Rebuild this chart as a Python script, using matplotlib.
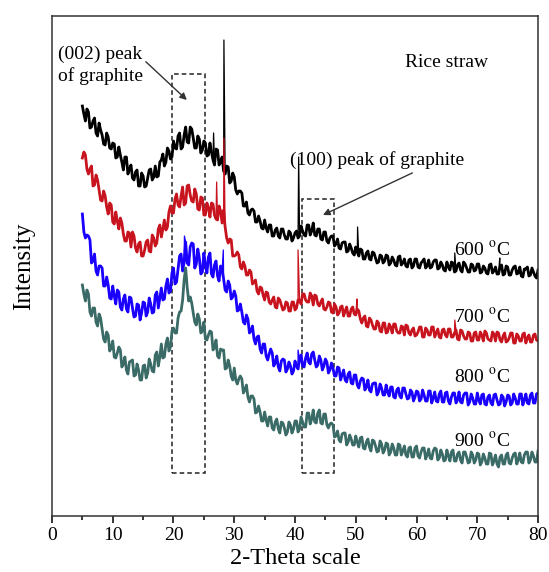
import numpy as np
import matplotlib
matplotlib.use("Agg")
import matplotlib.pyplot as plt
from matplotlib.patches import Rectangle

plt.rcParams['font.family'] = ['Liberation Serif', 'DejaVu Serif']
plt.rcParams['mathtext.fontset'] = 'stix'

# 2-theta grids (deg) of the read-off points
two_theta = np.arange(5.0, 80.01, 0.5)
two_theta_mid = np.arange(5.25, 79.8, 0.5)

# intensities (arbitrary units, curves stacked)
int_600 = [
    410, 395, 404, 389, 398, 380, 386, 372, 383, 368,
    373, 358, 369, 354, 359, 342, 351, 336, 346, 330,
    340, 330, 346, 336, 350, 340, 356, 350, 368, 357,
    375, 367, 383, 369, 389, 373, 387, 368, 380, 363,
    375, 360, 373, 356, 367, 351, 359, 342, 349, 335,
    339, 322, 325, 310, 314, 301, 307, 294, 300, 288,
    296, 284, 291, 280, 288, 278, 287, 277, 285, 275,
    283, 278, 290, 281, 291, 281, 293, 280, 287, 276,
    284, 273, 280, 270, 277, 267, 274, 264, 272, 263,
    269, 260, 266, 257, 265, 256, 263, 253, 261, 253,
    261, 251, 259, 251, 259, 251, 257, 249, 257, 250,
    257, 248, 255, 248, 256, 249, 256, 247, 254, 246,
    254, 246, 253, 245, 253, 244, 252, 244, 252, 245,
    252, 243, 250, 243, 251, 243, 249, 242, 251, 242,
    249, 241, 249, 242, 249, 239, 247, 240, 248, 240,
    246,
]
int_600_mid = [
    402, 407, 388, 395, 383, 393, 381, 371, 379, 367,
    372, 359, 361, 346, 359, 347, 338, 344, 330, 343,
    329, 338, 347, 339, 339, 354, 362, 354, 365, 359,
    368, 380, 367, 381, 374, 389, 378, 368, 377, 366,
    373, 361, 364, 351, 366, 354, 345, 350, 333, 343,
    326, 325, 323, 310, 303, 306, 305, 294, 295, 287,
    288, 291, 280, 286, 280, 287, 281, 277, 283, 278,
    285, 280, 285, 280, 291, 285, 281, 287, 277, 284,
    275, 278, 280, 272, 268, 273, 274, 265, 268, 261,
    264, 267, 257, 263, 257, 264, 258, 254, 260, 255,
    260, 253, 256, 250, 260, 253, 250, 256, 248, 257,
    249, 253, 257, 250, 248, 254, 256, 248, 251, 245,
    249, 254, 244, 251, 246, 254, 248, 244, 251, 246,
    252, 244, 248, 242, 252, 245, 242, 249, 241, 250,
    241, 246, 250, 243, 240, 247, 249, 241, 244, 238,
]
int_700 = [
    358, 361, 342, 350, 331, 336, 316, 325, 309, 313,
    294, 304, 287, 293, 275, 284, 269, 280, 264, 274,
    260, 274, 265, 281, 270, 287, 279, 296, 289, 310,
    303, 322, 309, 329, 313, 331, 315, 327, 307, 319,
    301, 313, 299, 312, 297, 310, 293, 289, 273, 276,
    260, 264, 249, 254, 241, 246, 232, 236, 222, 228,
    216, 223, 212, 219, 208, 216, 206, 214, 205, 214,
    206, 216, 212, 222, 214, 223, 211, 220, 210, 217,
    206, 214, 204, 212, 201, 209, 200, 209, 200, 209,
    201, 205, 193, 200, 189, 196, 187, 195, 185, 193,
    183, 192, 183, 192, 183, 190, 181, 190, 181, 188,
    181, 189, 179, 188, 181, 189, 179, 187, 178, 187,
    179, 187, 179, 186, 176, 185, 177, 184, 175, 183,
    176, 184, 175, 183, 176, 184, 175, 183, 174, 183,
    175, 183, 173, 182, 175, 182, 173, 181, 174, 182,
    175,
]
int_700_mid = [
    364, 347, 347, 330, 341, 326, 315, 320, 302, 311,
    292, 295, 298, 282, 275, 283, 284, 268, 272, 260,
    266, 276, 264, 278, 273, 291, 287, 286, 304, 303,
    317, 311, 320, 311, 330, 321, 314, 322, 306, 318,
    301, 308, 313, 301, 296, 305, 306, 278, 277, 260,
    261, 261, 247, 250, 241, 244, 234, 225, 229, 221,
    224, 214, 216, 209, 218, 211, 207, 213, 205, 214,
    208, 216, 222, 216, 214, 220, 221, 212, 214, 207,
    209, 213, 203, 209, 203, 210, 205, 200, 207, 202,
    207, 197, 198, 190, 198, 191, 187, 193, 184, 193,
    184, 189, 192, 185, 183, 189, 191, 183, 186, 180,
    184, 189, 179, 186, 181, 189, 183, 179, 186, 181,
    187, 179, 183, 177, 186, 180, 177, 183, 175, 184,
    176, 181, 185, 177, 175, 182, 184, 176, 180, 174,
    178, 183, 173, 180, 175, 183, 178, 174, 181, 176,
]
int_800 = [
    302, 278, 280, 253, 262, 241, 250, 230, 239, 218,
    230, 212, 224, 206, 221, 204, 218, 199, 212, 196,
    214, 200, 218, 203, 221, 208, 228, 217, 237, 225,
    248, 234, 260, 245, 274, 251, 273, 248, 267, 242,
    263, 243, 263, 239, 255, 235, 246, 226, 235, 217,
    225, 205, 212, 194, 201, 183, 190, 172, 180, 163,
    172, 156, 167, 150, 160, 145, 157, 144, 154, 142,
    155, 147, 161, 149, 163, 152, 164, 149, 160, 146,
    157, 143, 153, 140, 149, 136, 146, 134, 144, 132,
    141, 128, 138, 126, 136, 124, 133, 121, 132, 121,
    131, 120, 129, 118, 128, 118, 128, 117, 126, 115,
    125, 115, 126, 115, 125, 113, 124, 114, 125, 114,
    124, 112, 123, 113, 124, 113, 123, 111, 122, 112,
    123, 112, 122, 111, 121, 111, 122, 111, 121, 110,
    121, 111, 122, 112, 122, 111, 122, 112, 123, 113,
    123,
]
int_800_mid = [
    284, 281, 276, 255, 245, 250, 248, 230, 231, 217,
    220, 226, 209, 217, 207, 219, 208, 200, 211, 203,
    213, 204, 212, 204, 224, 218, 216, 230, 223, 243,
    232, 247, 262, 254, 253, 269, 272, 252, 258, 244,
    251, 259, 242, 251, 240, 250, 237, 224, 231, 219,
    220, 206, 204, 192, 197, 185, 177, 179, 167, 172,
    160, 162, 163, 153, 149, 155, 156, 147, 150, 145,
    150, 157, 150, 158, 154, 162, 156, 151, 156, 150,
    154, 146, 148, 140, 148, 141, 136, 142, 133, 141,
    131, 135, 137, 129, 126, 132, 133, 124, 128, 121,
    124, 129, 119, 126, 120, 128, 122, 118, 124, 119,
    124, 117, 121, 115, 125, 118, 115, 122, 114, 123,
    115, 119, 123, 116, 114, 121, 123, 114, 118, 112,
    116, 121, 112, 119, 113, 121, 116, 112, 119, 114,
    120, 113, 118, 112, 122, 116, 113, 121, 113, 122,
]
int_900 = [
    231, 215, 222, 200, 208, 190, 198, 177, 184, 165,
    175, 158, 169, 149, 159, 142, 155, 140, 152, 136,
    150, 138, 157, 145, 161, 150, 172, 159, 178, 169,
    188, 183, 204, 216, 248, 215, 213, 194, 202, 183,
    194, 176, 185, 166, 176, 158, 166, 147, 156, 140,
    148, 132, 140, 123, 131, 114, 120, 103, 110, 95,
    104, 90, 99, 86, 97, 83, 93, 81, 94, 83,
    95, 84, 99, 89, 103, 92, 106, 93, 106, 92,
    102, 88, 93, 79, 85, 74, 83, 71, 81, 71,
    80, 69, 79, 67, 77, 65, 75, 64, 75, 63,
    73, 61, 72, 61, 72, 61, 70, 59, 69, 59,
    70, 58, 68, 57, 67, 57, 68, 56, 66, 55,
    66, 55, 66, 55, 64, 53, 64, 53, 64, 53,
    63, 51, 62, 52, 63, 51, 61, 49, 61, 52,
    63, 52, 62, 52, 63, 53, 64, 53, 64, 54,
    65,
]
int_900_mid = [
    222, 226, 204, 208, 194, 202, 187, 174, 181, 168,
    159, 163, 166, 152, 146, 154, 156, 141, 146, 136,
    151, 143, 152, 144, 164, 159, 158, 172, 165, 185,
    183, 198, 205, 236, 229, 219, 203, 191, 197, 185,
    177, 181, 184, 168, 160, 167, 166, 148, 150, 136,
    136, 137, 137, 126, 119, 120, 117, 104, 104, 95,
    96, 99, 88, 94, 87, 94, 88, 84, 91, 87,
    95, 87, 94, 89, 103, 97, 94, 103, 93, 102,
    91, 92, 91, 80, 76, 82, 83, 74, 77, 71,
    74, 78, 68, 74, 69, 76, 70, 65, 72, 66,
    72, 64, 68, 61, 71, 65, 61, 68, 59, 68,
    60, 64, 68, 61, 58, 65, 67, 58, 62, 56,
    60, 64, 55, 62, 56, 64, 59, 54, 61, 56,
    62, 54, 58, 52, 62, 55, 52, 59, 52, 61,
    53, 58, 63, 56, 54, 61, 64, 56, 60, 54,
]

# sharp crystalline peaks (position, top)
peaks_600_x = [26.6, 28.3, 40.6, 50.3, 66.3, 73.7]
peaks_600_y = [383, 476, 359, 289, 263, 258]
peaks_700_x = [27.1, 28.3, 40.5, 50.2, 66.3]
peaks_700_y = [334, 378, 266, 217, 196]
peaks_800_x = [21.8, 28.2, 40.5]
peaks_800_y = [280, 266, 166]
peaks_900_x = []
peaks_900_y = []

labels = ['600', '700', '800', '900']
colors = ['#000000', '#c8141e', '#1a00ff', '#3a6b66']
label_y = [266, 199, 139, 75]


def build_series(base, mid, px, py):
    x = np.concatenate([two_theta, two_theta_mid, np.array(px, dtype=float)])
    y = np.concatenate([np.array(base, dtype=float), np.array(mid, dtype=float),
                        np.array(py, dtype=float)])
    order = np.argsort(x, kind='stable')
    return x[order], y[order]


series = [
    (int_600, int_600_mid, peaks_600_x, peaks_600_y),
    (int_700, int_700_mid, peaks_700_x, peaks_700_y),
    (int_800, int_800_mid, peaks_800_x, peaks_800_y),
    (int_900, int_900_mid, peaks_900_x, peaks_900_y),
]

fig = plt.figure(figsize=(5.49, 5.72), dpi=100)
ax = fig.add_axes([0.0947, 0.0979, 0.8853, 0.8741])

for (base, mid, px, py), c in zip(series, colors):
    # thick noisy band, then the same scan with its narrow peaks drawn thin
    xb, yb = build_series(base, mid, [], [])
    xs, ys = build_series(base, mid, px, py)
    ax.plot(xb, yb, color=c, lw=2.0)
    ax.plot(xs, ys, color=c, lw=0.9)

for lab, ly in zip(labels, label_y):
    ax.text(66.1, ly, lab + r' $^{\mathrm{o}}$C', fontsize=14, va='center', ha='left')

# dashed boxes marking graphite peaks
ax.add_patch(Rectangle((19.8, 43), 5.4, 399, fill=False, ls=(0, (3, 2)), lw=1.1, ec='#222222'))
ax.add_patch(Rectangle((41.2, 43), 5.2, 274, fill=False, ls=(0, (3, 2)), lw=1.1, ec='#222222'))

ax.annotate('(002) peak\nof graphite', xy=(22.2, 416), xytext=(1.0, 451),
            fontsize=14, va='center', ha='left', linespacing=1.3,
            arrowprops=dict(arrowstyle='-|>', color='#333333', lw=1.0,
                            shrinkA=0, shrinkB=0, mutation_scale=10,
                            relpos=(0.95, 0.75)))
ax.annotate('(100) peak of graphite', xy=(44.6, 301), xytext=(39.2, 356),
            fontsize=14, va='center', ha='left',
            arrowprops=dict(arrowstyle='-|>', color='#333333', lw=1.0,
                            shrinkA=2, shrinkB=0, mutation_scale=10,
                            relpos=(0.75, 0.0)))
ax.text(58.1, 454, 'Rice straw', fontsize=14, va='center', ha='left')

ax.set_xlim(0, 80)
ax.set_ylim(0, 500)
ax.set_xticks(np.arange(0, 81, 10))
ax.set_xticks(np.arange(5, 80, 10), minor=True)
ax.set_yticks([])
ax.tick_params(axis='x', which='major', direction='out', length=5, width=1.1, labelsize=14, pad=3)
ax.tick_params(axis='x', which='minor', direction='out', length=3, width=1.1)
for sp in ax.spines.values():
    sp.set_linewidth(1.1)
    sp.set_color('#333333')

ax.set_xlabel('2-Theta scale', fontsize=17.5, labelpad=3)
ax.set_ylabel('Intensity', fontsize=18, labelpad=12)

fig.savefig('out.png', dpi=100)
plt.close(fig)
